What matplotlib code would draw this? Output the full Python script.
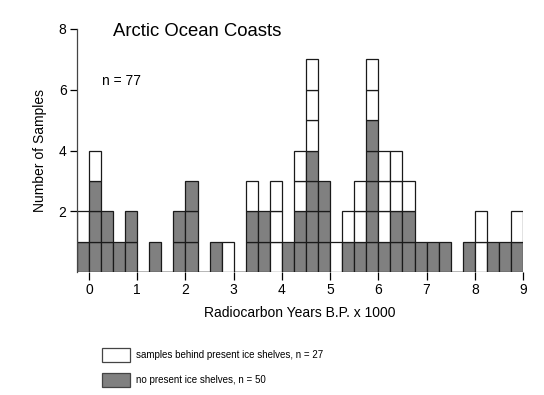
import matplotlib
matplotlib.use("Agg")
import matplotlib.pyplot as plt
from matplotlib.patches import Rectangle

plt.rcParams['font.family'] = ['Liberation Sans', 'DejaVu Sans']

# left edge of each 250-yr bin (x 1000 yr BP) and sample counts per bin
bin_left = [-0.25, 0.0, 0.25, 0.5, 0.75, 1.25, 1.75, 2.0, 2.5, 2.75, 3.25, 3.5,
            3.75, 4.0, 4.25, 4.5, 4.75, 5.0, 5.25, 5.5, 5.75, 6.0, 6.25, 6.5,
            6.75, 7.0, 7.25, 7.75, 8.0, 8.25, 8.5, 8.75]
no_shelf = [1, 3, 2, 1, 2, 1, 2, 3, 1, 0, 2, 2, 0, 1, 2, 4, 3, 0, 1, 1, 5, 1,
            2, 2, 1, 1, 1, 1, 0, 1, 1, 1]
behind_shelf = [1, 1, 0, 0, 0, 0, 0, 0, 0, 1, 1, 0, 3, 0, 2, 3, 0, 1, 1, 2, 2,
                3, 2, 1, 0, 0, 0, 0, 2, 0, 0, 1]
bin_width = 0.25

x_ticks = [0, 1, 2, 3, 4, 5, 6, 7, 8, 9]
y_ticks = [2, 4, 6, 8]

GRAY = '#808080'
EDGE = '#1a1a1a'

fig = plt.figure(figsize=(5.44, 3.95), dpi=100)
ax = fig.add_axes([77 / 544, 1 - 272 / 395, 446 / 544, 243 / 395])

# baseline
ax.axhline(0, color='#aaaaaa', lw=1.2, zorder=1)

# one box per sample: grey ones first, white ones stacked on top
for left, g, w in zip(bin_left, no_shelf, behind_shelf):
    for k in range(g):
        ax.bar(left, 1, width=bin_width, bottom=k, align='edge',
               color=GRAY, edgecolor=EDGE, linewidth=0.9, zorder=2)
    for k in range(w):
        ax.bar(left, 1, width=bin_width, bottom=g + k, align='edge',
               color='white', edgecolor=EDGE, linewidth=0.9, zorder=2)

ax.set_xlim(-0.25, 9.0)
ax.set_ylim(0, 8)
ax.set_xticks(x_ticks)
ax.set_yticks(y_ticks)
ax.tick_params(axis='x', length=6, width=0.9, pad=2, labelsize=10, color='black')
ax.tick_params(axis='y', length=5, width=0.9, pad=2.5, labelsize=10, color='black')

for s in ['top', 'right', 'bottom']:
    ax.spines[s].set_visible(False)
ax.spines['left'].set_color('#444444')
ax.spines['left'].set_linewidth(0.9)

ax.set_xlabel('Radiocarbon Years B.P. x 1000', fontsize=10)
ax.xaxis.set_label_coords(0.5, -0.14)
ax.set_ylabel('Number of Samples', fontsize=10)
ax.yaxis.set_label_coords(-0.068, 0.5)

fig.text(113 / 544, 1 - 31 / 395, 'Arctic Ocean Coasts', fontsize=13.3,
         va='center', ha='left')
fig.text(102 / 544, 1 - 81 / 395, 'n = 77', fontsize=10, va='center', ha='left')

# legend drawn as boxes in figure coordinates
legend_rows = [('white', 'samples behind present ice shelves, n = 27', 348),
               (GRAY, 'no present ice shelves, n = 50', 373)]
for fc, label, ytop in legend_rows:
    fig.patches.append(Rectangle((102 / 544, 1 - (ytop + 14) / 395), 28 / 544, 14 / 395,
                                 transform=fig.transFigure, facecolor=fc,
                                 edgecolor='#444444', linewidth=0.9))
    fig.text(136 / 544, 1 - (ytop + 7) / 395, label, fontsize=7,
             va='center', ha='left')

fig.savefig('out.png', dpi=100)
